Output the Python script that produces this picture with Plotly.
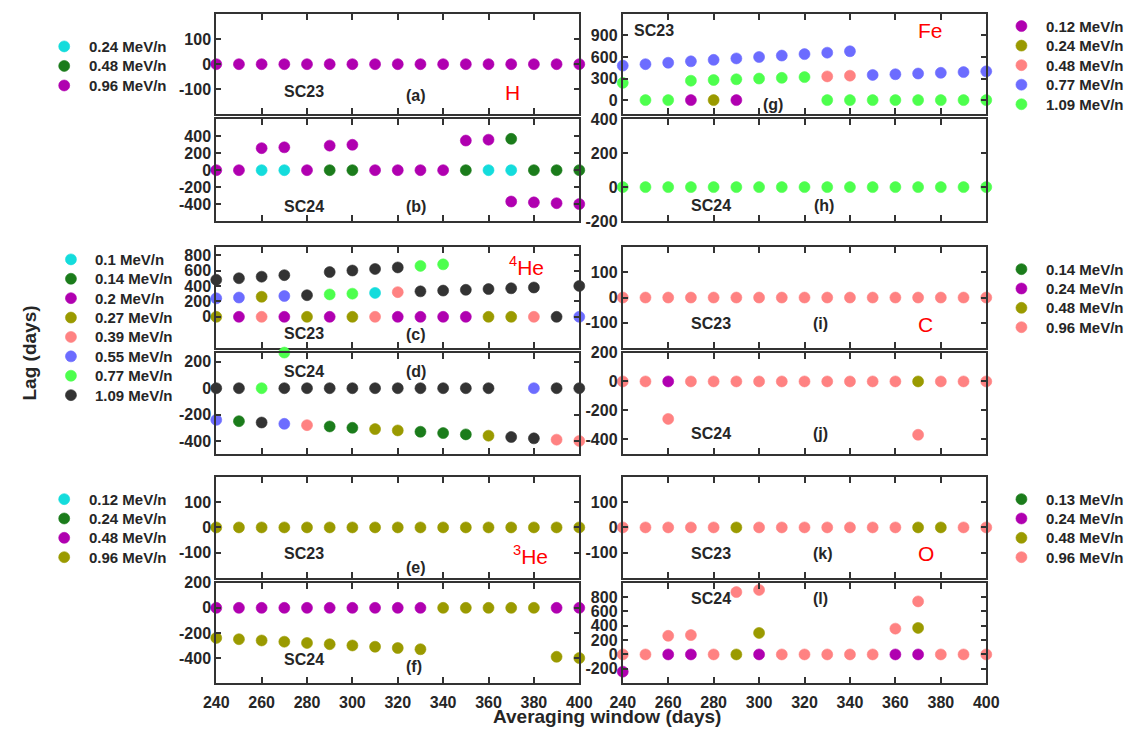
import plotly.graph_objects as go

W, H = 1139, 739
N = None
FONT = "Liberation Sans, Arial, Helvetica, sans-serif"
INK = "#262626"
FRAME = "#333333"

# averaging windows (days)
window = [240, 250, 260, 270, 280, 290, 300, 310, 320, 330, 340, 350, 360, 370, 380, 390, 400]
x_ticks = [240, 260, 280, 300, 320, 340, 360, 380, 400]

# channel colours
CYAN = "#14DCDC"
DKGREEN = "#1B7C1B"
MAGENTA = "#B000B0"
OLIVE = "#9A9A00"
SALMON = "#FF8282"
BLUE = "#6C6CFF"
LTGREEN = "#4DFF4D"
DARK = "#333333"

# ---- H ----
h_labels = ["0.24 MeV/n", "0.48 MeV/n", "0.96 MeV/n"]
h_colors = [CYAN, DKGREEN, MAGENTA]
h23_024 = [N, N, N, N, N, N, N, N, N, N, N, N, N, N, N, N, N]
h23_048 = [N, N, N, N, N, N, N, N, N, N, N, N, N, N, N, N, N]
h23_096 = [0, 0, 0, 0, 0, 0, 0, 0, 0, 0, 0, 0, 0, 0, 0, 0, 0]
h24_024 = [N, N, 0, 0, N, N, N, N, N, N, N, N, 0, 0, N, N, N]
h24_048 = [N, N, N, N, N, 0, 0, N, N, N, N, 0, N, 370, 0, 0, 0]
h24_096 = [0, 0, 260, 270, 0, 290, 300, 0, 0, 0, 0, 350, 360, -370, -380, -390, -400]

# ---- 4He ----
he4_labels = ["0.1 MeV/n", "0.14 MeV/n", "0.2 MeV/n", "0.27 MeV/n",
              "0.39 MeV/n", "0.55 MeV/n", "0.77 MeV/n", "1.09 MeV/n"]
he4_colors = [CYAN, DKGREEN, MAGENTA, OLIVE, SALMON, BLUE, LTGREEN, DARK]
he4_23_010 = [N, N, N, N, N, N, N, 310, N, N, N, N, N, N, N, N, N]
he4_23_014 = [N, N, N, N, N, N, N, N, N, N, N, N, N, N, N, N, N]
he4_23_020 = [N, 0, N, 0, N, 0, N, N, 0, 0, 0, 0, N, N, N, N, N]
he4_23_027 = [0, N, 260, N, 0, N, 0, N, N, N, N, N, 0, 0, N, N, N]
he4_23_039 = [N, N, 0, N, N, N, N, 0, 320, N, N, N, N, N, 0, N, N]
he4_23_055 = [240, 250, N, 270, N, N, N, N, N, N, N, N, N, N, N, N, 0]
he4_23_077 = [N, N, N, N, N, 290, 300, N, N, 660, 680, N, N, N, N, N, N]
he4_23_109 = [480, 500, 520, 540, 280, 580, 600, 620, 640, 330, 340, 350, 360, 370, 380, 0, 400]
he4_24_010 = [N, N, N, N, N, N, N, N, N, N, N, N, N, N, N, N, N]
he4_24_014 = [N, -250, N, N, N, -290, -300, N, N, -330, -340, -350, N, N, N, N, N]
he4_24_020 = [N, N, N, N, N, N, N, N, N, N, N, N, N, N, N, N, N]
he4_24_027 = [N, N, N, N, N, N, N, -310, -320, N, N, N, -360, N, N, N, N]
he4_24_039 = [N, N, N, N, -280, N, N, N, N, N, N, N, N, N, N, -390, -400]
he4_24_055 = [-240, N, N, -270, N, N, N, N, N, N, N, N, N, N, 0, N, N]
he4_24_077 = [N, N, 0, 270, N, N, N, N, N, N, N, N, N, N, N, N, N]
he4_24_109 = [0, 0, -260, 0, 0, 0, 0, 0, 0, 0, 0, 0, 0, -370, -380, 0, 0]

# ---- 3He ----
he3_labels = ["0.12 MeV/n", "0.24 MeV/n", "0.48 MeV/n", "0.96 MeV/n"]
he3_colors = [CYAN, DKGREEN, MAGENTA, OLIVE]
he3_23_012 = [N, N, N, N, N, N, N, N, N, N, N, N, N, N, N, N, N]
he3_23_024 = [N, N, N, N, N, N, N, N, N, N, N, N, N, N, N, N, N]
he3_23_048 = [N, N, N, N, N, N, N, N, N, N, N, N, N, N, N, N, N]
he3_23_096 = [0, 0, 0, 0, 0, 0, 0, 0, 0, 0, 0, 0, 0, 0, 0, 0, 0]
he3_24_012 = [N, N, N, N, N, N, N, N, N, N, N, N, N, N, N, N, N]
he3_24_024 = [N, N, N, N, N, N, N, N, N, N, N, N, N, N, N, N, N]
he3_24_048 = [0, 0, 0, 0, 0, 0, 0, 0, 0, 0, N, N, N, N, N, 0, 0]
he3_24_096 = [-240, -250, -260, -270, -280, -290, -300, -310, -320, -330, 0, 0, 0, 0, 0, -390, -400]

# ---- Fe ----
fe_labels = ["0.12 MeV/n", "0.24 MeV/n", "0.48 MeV/n", "0.77 MeV/n", "1.09 MeV/n"]
fe_colors = [MAGENTA, OLIVE, SALMON, BLUE, LTGREEN]
fe23_012 = [N, N, N, 0, N, 0, N, N, N, N, N, N, N, N, N, N, N]
fe23_024 = [N, N, N, N, 0, N, N, N, N, N, N, N, N, N, N, N, N]
fe23_048 = [N, N, N, N, N, N, N, N, N, 330, 340, N, N, N, N, N, N]
fe23_077 = [480, 500, 520, 540, 560, 580, 600, 620, 640, 660, 680, 350, 360, 370, 380, 390, 400]
fe23_109 = [240, 0, 0, 270, 280, 290, 300, 310, 320, 0, 0, 0, 0, 0, 0, 0, 0]
fe24_012 = [N, N, N, N, N, N, N, N, N, N, N, N, N, N, N, N, N]
fe24_024 = [N, N, N, N, N, N, N, N, N, N, N, N, N, N, N, N, N]
fe24_048 = [N, N, N, N, N, N, N, N, N, N, N, N, N, N, N, N, N]
fe24_077 = [N, N, N, N, N, N, N, N, N, N, N, N, N, N, N, N, N]
fe24_109 = [0, 0, 0, 0, 0, 0, 0, 0, 0, 0, 0, 0, 0, 0, 0, 0, 0]

# ---- C ----
c_labels = ["0.14 MeV/n", "0.24 MeV/n", "0.48 MeV/n", "0.96 MeV/n"]
c_colors = [DKGREEN, MAGENTA, OLIVE, SALMON]
c23_014 = [N, N, N, N, N, N, N, N, N, N, N, N, N, N, N, N, N]
c23_024 = [N, N, N, N, N, N, N, N, N, N, N, N, N, N, N, N, N]
c23_048 = [N, N, N, N, N, N, N, N, N, N, N, N, N, N, N, N, N]
c23_096 = [0, 0, 0, 0, 0, 0, 0, 0, 0, 0, 0, 0, 0, 0, 0, 0, 0]
c24_014 = [N, N, N, N, N, N, N, N, N, N, N, N, N, N, N, N, N]
c24_024 = [N, N, 0, N, N, N, N, N, N, N, N, N, N, N, N, N, N]
c24_048 = [N, N, N, N, N, N, N, N, N, N, N, N, N, 0, N, N, N]
c24_096 = [0, 0, -260, 0, 0, 0, 0, 0, 0, 0, 0, 0, 0, -370, 0, 0, 0]

# ---- O ----
o_labels = ["0.13 MeV/n", "0.24 MeV/n", "0.48 MeV/n", "0.96 MeV/n"]
o_colors = [DKGREEN, MAGENTA, OLIVE, SALMON]
o23_013 = [N, N, N, N, N, N, N, N, N, N, N, N, N, N, N, N, N]
o23_024 = [N, N, N, N, N, N, N, N, N, N, N, N, N, N, N, N, N]
o23_048 = [N, N, N, N, N, 0, N, N, N, N, N, N, N, 0, 0, N, N]
o23_096 = [0, 0, 0, 0, 0, N, 0, 0, 0, 0, 0, 0, 0, N, N, 0, 0]
o24_013 = [N, N, N, N, N, N, N, N, N, N, N, N, N, N, N, N, N]
o24_024 = [-240, N, 0, 0, N, N, 0, N, N, N, N, N, 0, 0, N, N, N]
o24_048 = [N, N, N, N, N, 0, 300, N, N, N, N, N, N, 370, N, N, N]
o24_096 = [0, 0, 260, 270, 0, 870, 900, 0, 0, 0, 0, 0, 360, 740, 0, 0, 0]

# ---- panel geometry (pixels) ----
COLS = [(208, 579.5), (624, 996)]
ROWS = [(6, 109), (114, 218), (245, 347.7), (352.7, 456), (480, 583.3), (588.3, 691)]


def px_x(p):
    return p / W


def px_y(p):
    return 1 - p / H


def tick_text(vals):
    # plain hyphen for negative numbers
    return [str(v) for v in vals]


panels = [
    # (col, row, series, colors, y-range, y-ticks)
    (0, 0, [h23_024, h23_048, h23_096], h_colors, [-200, 200], [-100, 0, 100]),
    (0, 1, [h24_024, h24_048, h24_096], h_colors, [-600, 600], [-400, -200, 0, 200, 400]),
    (0, 2, [he4_23_010, he4_23_014, he4_23_020, he4_23_027, he4_23_039, he4_23_055, he4_23_077, he4_23_109],
     he4_colors, [-400, 900], [0, 200, 400, 600, 800]),
    (0, 3, [he4_24_010, he4_24_014, he4_24_020, he4_24_027, he4_24_039, he4_24_055, he4_24_077, he4_24_109],
     he4_colors, [-495, 270], [-400, -200, 0, 200]),
    (0, 4, [he3_23_012, he3_23_024, he3_23_048, he3_23_096], he3_colors, [-200, 200], [-100, 0, 100]),
    (0, 5, [he3_24_012, he3_24_024, he3_24_048, he3_24_096], he3_colors, [-600, 200], [-400, -200, 0, 200]),
    (1, 0, [fe23_012, fe23_024, fe23_048, fe23_077, fe23_109], fe_colors, [-200, 1200], [0, 300, 600, 900]),
    (1, 1, [fe24_012, fe24_024, fe24_048, fe24_077, fe24_109], fe_colors, [-200, 400], [-200, 0, 200, 400]),
    (1, 2, [c23_014, c23_024, c23_048, c23_096], c_colors, [-200, 200], [-100, 0, 100]),
    (1, 3, [c24_014, c24_024, c24_048, c24_096], c_colors, [-500, 200], [-400, -200, 0, 200]),
    (1, 4, [o23_013, o23_024, o23_048, o23_096], o_colors, [-200, 200], [-100, 0, 100]),
    (1, 5, [o24_013, o24_024, o24_048, o24_096], o_colors, [-400, 1000], [-200, 0, 200, 400, 600, 800]),
]

fig = go.Figure()
layout = {}

tickfont = dict(family=FONT, size=16, color=INK, weight="bold")

for i, (col, row, series, colors, yr, yt) in enumerate(panels, start=1):
    xa = "x" if i == 1 else f"x{i}"
    ya = "y" if i == 1 else f"y{i}"
    for values, color in zip(series, colors):
        if all(v is None for v in values):
            continue
        fig.add_trace(go.Scatter(
            x=window, y=values, mode="markers", xaxis=xa, yaxis=ya,
            marker=dict(size=11, color=color, line=dict(width=0.6, color=color)),
            showlegend=False, cliponaxis=False, hoverinfo="x+y",
        ))
    x0, x1 = COLS[col]
    y0, y1 = ROWS[row]
    key = "" if i == 1 else str(i)
    layout[f"xaxis{key}"] = dict(
        domain=[px_x(x0), px_x(x1)], anchor=ya, range=[240, 400],
        tickvals=x_ticks, ticktext=tick_text(x_ticks),
        ticks="inside", ticklen=6, tickwidth=1.5, tickcolor=FRAME,
        showline=True, linewidth=2, linecolor=FRAME, mirror="ticks",
        showgrid=False, zeroline=False, showticklabels=(row == 5),
        tickfont=tickfont, ticklabelstandoff=4,
    )
    layout[f"yaxis{key}"] = dict(
        domain=[px_y(y1), px_y(y0)], anchor=xa, range=yr,
        tickvals=yt, ticktext=tick_text(yt),
        ticks="inside", ticklen=5, tickwidth=1.5, tickcolor=FRAME,
        showline=True, linewidth=2, linecolor=FRAME, mirror="ticks",
        showgrid=False, zeroline=False, tickfont=tickfont,
    )

# ---- colour keys, one per element ----
keys = [
    (h_labels, h_colors, 52.4, 39.3, 20.0),
    (he4_labels, he4_colors, 59.3, 257.3, 19.85),
    (he3_labels, he3_colors, 52.4, 502.7, 19.8),
    (fe_labels, fe_colors, 1032, 18.5, 20.0),
    (c_labels, c_colors, 1032, 267.3, 19.8),
    (o_labels, o_colors, 1032, 502.7, 19.8),
]

annotations = []
n = len(panels)
for labels, colors, mx, r0, step in keys:
    n += 1
    xa, ya = f"x{n}", f"y{n}"
    count = len(labels)
    rows = list(range(count))
    fig.add_trace(go.Scatter(
        x=[0] * count, y=rows, mode="markers", xaxis=xa, yaxis=ya,
        marker=dict(size=11, color=colors, line=dict(width=0.6, color=colors)),
        showlegend=False, cliponaxis=False, hoverinfo="skip",
    ))
    top = r0 - step / 2
    bottom = r0 + step * (count - 1) + step / 2
    layout[f"xaxis{n}"] = dict(domain=[px_x(mx - 10), px_x(mx + 100)], range=[-10, 100],
                               anchor=ya, visible=False, fixedrange=True)
    layout[f"yaxis{n}"] = dict(domain=[px_y(bottom), px_y(top)], range=[count - 0.5, -0.5],
                               anchor=xa, visible=False, fixedrange=True)
    for r, lab in zip(rows, labels):
        annotations.append(dict(
            x=23, y=r, xref=xa, yref=ya, text=lab, showarrow=False,
            xanchor="left", yanchor="middle",
            font=dict(family=FONT, size=15, color=INK, weight="bold"),
        ))


def note(text, x, y, size=16, color=INK, weight="bold", angle=0):
    annotations.append(dict(
        x=px_x(x), y=px_y(y), xref="paper", yref="paper", text=text, showarrow=False,
        xanchor="center", yanchor="middle", textangle=angle,
        font=dict(family=FONT, size=size, color=color, weight=weight),
    ))


# cycle and panel tags
note("SC23", 297.7, 85)
note("(a)", 412.5, 90)
note("SC24", 297.7, 202.7)
note("(b)", 412.5, 202.7)
note("SC23", 297.7, 333.3)
note("(c)", 412.5, 334.3)
note("SC24", 297.7, 371.7)
note("(d)", 412.5, 371.7)
note("SC23", 297.7, 558.7)
note("(e)", 412.5, 572.7)
note("SC24", 297.7, 666.7)
note("(f)", 410.6, 674.3)
note("SC23", 655.6, 22.7)
note("(g)", 777.9, 98.3)
note("SC24", 714.4, 201.7)
note("(h)", 829.6, 201.7)
note("SC23", 714.4, 323.3)
note("(i)", 826.7, 323.3)
note("SC24", 714.4, 435.7)
note("(j)", 826.7, 435.7)
note("SC23", 714.4, 558.7)
note("(k)", 828.8, 558.7)
note("SC24", 714.4, 604.3)
note("(l)", 826.7, 604.3)

# element names
RED = "#FF0000"
note("H", 511, 87, size=21, color=RED, weight="normal")
note("<sup>4</sup>He", 526, 264, size=21, color=RED, weight="normal")
note("<sup>3</sup>He", 530, 560, size=21, color=RED, weight="normal")
note("Fe", 939.4, 23.3, size=21, color=RED, weight="normal")
note("C", 934, 324, size=21, color=RED, weight="normal")
note("O", 934.7, 558.7, size=21, color=RED, weight="normal")

# axis titles
note("Lag (days)", 17, 353, size=19, angle=-90)
note("Averaging window (days)", 607.5, 725, size=19)

fig.update_layout(
    width=W, height=H, margin=dict(l=0, r=0, t=0, b=0),
    paper_bgcolor="white", plot_bgcolor="white",
    showlegend=False, annotations=annotations, **layout,
)

fig.write_html("out.html")
